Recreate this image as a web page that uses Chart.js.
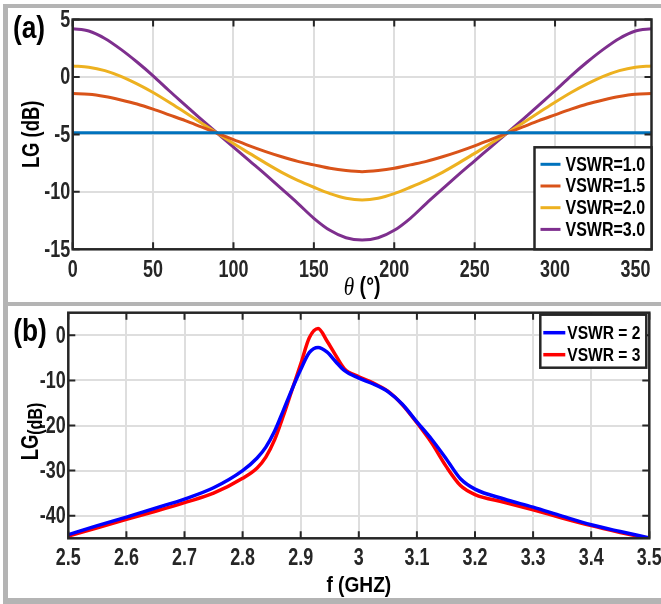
<!DOCTYPE html>
<html>
<head>
<meta charset="utf-8">
<title>LG versus phase and frequency</title>
<script src="https://cdn.jsdelivr.net/npm/chart.js@4.4.1/dist/chart.umd.min.js"></script>
<style>
  html, body { margin: 0; padding: 0; background: #fff; }
  body { width: 661px; height: 604px; position: relative; overflow: hidden; }
  .frame { position: absolute; background: #b4b4b4; }
  canvas { position: absolute; left: 8px; }
  #chartA { top: 8px; }
  #chartB { top: 306px; }
</style>
</head>
<body>
<div class="frame" style="left:3px;top:4px;width:658px;height:4px"></div>
<div class="frame" style="left:3px;top:302px;width:658px;height:4px"></div>
<div class="frame" style="left:3px;top:598px;width:658px;height:6px"></div>
<div class="frame" style="left:3px;top:4px;width:5px;height:600px"></div>
<canvas id="chartA" width="653" height="294"></canvas>
<canvas id="chartB" width="653" height="292"></canvas>
<script>
var FONT = "'Liberation Sans', Arial, sans-serif";
var INK = '#262626';

// (a) LG against phase angle theta
var thetaDeg = [0, 10, 20, 30, 40, 50, 60, 70, 80, 90, 100, 110, 120, 130, 140, 150, 160, 170, 180,
  190, 200, 210, 220, 230, 240, 250, 260, 270, 280, 290, 300, 310, 320, 330, 340, 350, 360];
var lgVswr10 = [-4.85, -4.85, -4.85, -4.85, -4.85, -4.85, -4.85, -4.85, -4.85, -4.85, -4.85, -4.85, -4.85,
  -4.85, -4.85, -4.85, -4.85, -4.85, -4.85, -4.85, -4.85, -4.85, -4.85, -4.85, -4.85, -4.85, -4.85,
  -4.85, -4.85, -4.85, -4.85, -4.85, -4.85, -4.85, -4.85, -4.85, -4.85];
var lgVswr15 = [-1.45, -1.5, -1.7, -2.0, -2.35, -2.8, -3.3, -3.8, -4.35, -4.9, -5.45, -6.0, -6.5, -6.95,
  -7.35, -7.65, -7.95, -8.15, -8.25, -8.15, -7.95, -7.65, -7.35, -6.95, -6.5, -6.0, -5.45, -4.9,
  -4.35, -3.8, -3.3, -2.8, -2.35, -2.0, -1.7, -1.5, -1.45];
var lgVswr20 = [0.95, 0.85, 0.55, 0.05, -0.6, -1.35, -2.2, -3.1, -4.0, -4.9, -5.8, -6.65, -7.5, -8.3,
  -9.0, -9.6, -10.15, -10.55, -10.7, -10.55, -10.15, -9.6, -9.0, -8.3, -7.5, -6.65, -5.8, -4.9,
  -4.0, -3.1, -2.2, -1.35, -0.6, 0.05, 0.55, 0.85, 0.95];
var lgVswr30 = [4.2, 4.0, 3.35, 2.4, 1.3, 0.1, -1.2, -2.45, -3.7, -4.9, -6.1, -7.3, -8.5, -9.75,
  -11.0, -12.3, -13.35, -14.0, -14.2, -14.0, -13.35, -12.3, -11.0, -9.75, -8.5, -7.3, -6.1, -4.9,
  -3.7, -2.45, -1.2, 0.1, 1.3, 2.4, 3.35, 4.0, 4.2];
var thetaTicks = [0, 50, 100, 150, 200, 250, 300, 350];
var lgTicksA = [-15, -10, -5, 0, 5];

// (b) LG against frequency
var freqGHz = [2.5, 2.55, 2.6, 2.65, 2.7, 2.75, 2.8, 2.825, 2.84, 2.855, 2.87, 2.885, 2.9, 2.915,
  2.93, 2.945, 2.96, 2.975, 3.0, 3.025, 3.05, 3.075, 3.1, 3.125, 3.15, 3.175, 3.2, 3.25, 3.3,
  3.35, 3.4, 3.45, 3.5];
var lgVswr2 = [-44.2, -42.2, -40.3, -38.3, -36.3, -33.8, -30.0, -27.2, -24.8, -21.3, -16.7, -12.0,
  -7.6, -3.8, -2.7, -3.7, -5.8, -7.8, -9.5, -10.8, -12.5, -15.3, -19.2, -23.0, -27.3, -31.8,
  -34.1, -36.3, -38.1, -40.1, -42.0, -43.5, -44.9];
var lgVswr3 = [-44.5, -42.7, -40.8, -39.0, -37.1, -35.0, -31.7, -29.4, -27.0, -23.2, -17.9, -12.1,
  -6.4, -0.5, 1.5, -1.2, -4.4, -7.4, -9.2, -10.6, -12.4, -15.4, -19.4, -23.8, -29.0, -33.3,
  -35.3, -37.0, -38.7, -40.5, -42.2, -43.7, -45.1];
var freqTicks = [2.5, 2.6, 2.7, 2.8, 2.9, 3.0, 3.1, 3.2, 3.3, 3.4, 3.5];
var freqTickLabels = ['2.5', '2.6', '2.7', '2.8', '2.9', '3', '3.1', '3.2', '3.3', '3.4', '3.5'];
var lgTicksB = [-40, -30, -20, -10, 0];

function pairs(xs, ys) {
  return xs.map(function(x, i) { return {x: x, y: ys[i]}; });
}

function line(label, xs, ys, color, width) {
  return {
    label: label,
    data: pairs(xs, ys),
    borderColor: color,
    backgroundColor: color,
    borderWidth: width,
    pointRadius: 0,
    cubicInterpolationMode: 'monotone',
    fill: false
  };
}

function fixedTicks(values) {
  return function(scale) {
    scale.ticks = values.map(function(v) { return {value: v}; });
  };
}

// the figure's lettering is tall and narrow, so squeeze it sideways
function fillNarrow(ctx, text, x, y, squeeze) {
  ctx.fillText(text, x, y, ctx.measureText(text).width * squeeze);
}

function drawParts(ctx, parts, cx, cy, squeeze) {
  var total = 0;
  parts.forEach(function(p) { ctx.font = p.font; total += ctx.measureText(p.text).width * squeeze; });
  var x = cx - total / 2;
  ctx.textAlign = 'left';
  parts.forEach(function(p) {
    ctx.font = p.font;
    fillNarrow(ctx, p.text, x, cy + (p.dy || 0), squeeze);
    x += ctx.measureText(p.text).width * squeeze;
  });
}

// frame, inward ticks, tick labels, panel tag, axis titles and the boxed legend
var panelDecor = {
  id: 'panelDecor',
  afterDraw: function(chart, args, opts) {
    var ctx = chart.ctx, a = chart.chartArea;
    var xs = chart.scales.x, ys = chart.scales.y;
    ctx.save();

    ctx.strokeStyle = INK;
    ctx.lineWidth = 2;
    ctx.beginPath();
    xs.ticks.forEach(function(t) {
      var px = xs.getPixelForValue(t.value);
      ctx.moveTo(px, a.bottom); ctx.lineTo(px, a.bottom - 7);
      ctx.moveTo(px, a.top); ctx.lineTo(px, a.top + 7);
    });
    ys.ticks.forEach(function(t) {
      var py = ys.getPixelForValue(t.value);
      ctx.moveTo(a.left, py); ctx.lineTo(a.left + 7, py);
      ctx.moveTo(a.right, py); ctx.lineTo(a.right - 7, py);
    });
    ctx.stroke();
    ctx.lineWidth = 2.5;
    ctx.strokeRect(a.left, a.top, a.right - a.left, a.bottom - a.top);

    ctx.fillStyle = INK;
    ctx.textBaseline = 'middle';
    ctx.font = 'bold 23px ' + FONT;
    ctx.textAlign = 'center';
    xs.ticks.forEach(function(t) {
      fillNarrow(ctx, t.label, xs.getPixelForValue(t.value), a.bottom + opts.xTickGap, 0.78);
    });
    ctx.textAlign = 'right';
    ys.ticks.forEach(function(t) {
      fillNarrow(ctx, t.label, a.left - 2.5, ys.getPixelForValue(t.value) + 1, 0.78);
    });

    ctx.fillStyle = '#000';
    drawParts(ctx, [{text: opts.tag, font: 'bold 31px ' + FONT}], opts.tagX, opts.tagY, 0.85);
    drawParts(ctx, opts.xTitle, (a.left + a.right) / 2, opts.xTitleY, opts.titleSqueeze);

    ctx.save();
    ctx.translate(opts.yTitleX, (a.top + a.bottom) / 2 + opts.yTitleShift);
    ctx.rotate(-Math.PI / 2);
    drawParts(ctx, opts.yTitle, 0, 0, 0.8);
    ctx.restore();

    var lg = opts.legend;
    var bx = a.right - lg.dx - lg.w;
    var by = lg.anchor === 'bottom' ? a.bottom - lg.dy - lg.h : a.top + lg.dy;
    ctx.fillStyle = '#fff';
    ctx.fillRect(bx, by, lg.w, lg.h);
    ctx.strokeStyle = INK;
    ctx.lineWidth = 2.5;
    ctx.strokeRect(bx, by, lg.w, lg.h);
    ctx.font = 'bold ' + lg.size + 'px ' + FONT;
    ctx.textAlign = 'left';
    chart.data.datasets.forEach(function(ds, i) {
      var ry = by + lg.first + i * lg.gap;
      ctx.strokeStyle = ds.borderColor;
      ctx.lineWidth = ds.borderWidth;
      ctx.beginPath();
      ctx.moveTo(bx + lg.s0, ry);
      ctx.lineTo(bx + lg.s1, ry);
      ctx.stroke();
      ctx.fillStyle = '#000';
      fillNarrow(ctx, ds.label, bx + lg.tx, ry + 1, 0.82);
    });
    ctx.restore();
  }
};

function axis(min, max, ticks, fitSize, horizontal, callback) {
  return {
    type: 'linear',
    min: min,
    max: max,
    afterBuildTicks: fixedTicks(ticks),
    afterFit: function(scale) {
      if (horizontal) { scale.height = fitSize; } else { scale.width = fitSize; }
      scale.paddingLeft = 0; scale.paddingRight = 0;
      scale.paddingTop = 0; scale.paddingBottom = 0;
    },
    grid: {color: '#dedede', lineWidth: 2, drawTicks: false},
    border: {display: false},
    ticks: {
      display: false,
      callback: callback || function(v) { return String(v); }
    }
  };
}

var baseOptions = {
  responsive: false,
  animation: false,
  devicePixelRatio: 1,
  events: []
};

new Chart(document.getElementById('chartA'), {
  type: 'line',
  data: {
    datasets: [
      line('VSWR=1.0', thetaDeg, lgVswr10, '#0072BD', 3),
      line('VSWR=1.5', thetaDeg, lgVswr15, '#D95319', 3),
      line('VSWR=2.0', thetaDeg, lgVswr20, '#EDB120', 3),
      line('VSWR=3.0', thetaDeg, lgVswr30, '#7E2F8E', 3)
    ]
  },
  options: Object.assign({}, baseOptions, {
    layout: {padding: {top: 11.5, right: 9.5, left: 0, bottom: 0}},
    scales: {
      x: axis(0, 360, thetaTicks, 52.7, true),
      y: axis(-15, 5, lgTicksA, 64.7, false)
    },
    plugins: {
      legend: {display: false},
      tooltip: {enabled: false},
      panelDecor: {
        tag: '(a)', tagX: 21, tagY: 21,
        xTickGap: 21,
        xTitle: [{text: '\u03b8', font: 'italic 25px "Liberation Serif", serif'},
                 {text: ' (\u00b0)', font: 'bold 23px ' + FONT}],
        xTitleY: 280, titleSqueeze: 0.85,
        yTitle: [{text: 'LG (dB)', font: 'bold 23px ' + FONT}],
        yTitleX: 25, yTitleShift: 0,
        legend: {anchor: 'bottom', dx: 0, dy: 0, w: 117, h: 102, first: 17, gap: 21.7,
                 s0: 6, s1: 26, tx: 31, size: 19.5}
      }
    }
  }),
  plugins: [panelDecor]
});

new Chart(document.getElementById('chartB'), {
  type: 'line',
  data: {
    datasets: [
      line('VSWR = 2', freqGHz, lgVswr2, '#0000FF', 3.5),
      line('VSWR = 3', freqGHz, lgVswr3, '#FF0000', 3.5)
    ]
  },
  options: Object.assign({}, baseOptions, {
    layout: {padding: {top: 6.7, right: 11.7, left: 0, bottom: 0}},
    scales: {
      x: axis(2.5, 3.5, freqTicks, 59.7, true, function(v, i) { return freqTickLabels[i]; }),
      y: axis(-45, 5, lgTicksB, 60.3, false)
    },
    plugins: {
      legend: {display: false},
      tooltip: {enabled: false},
      panelDecor: {
        tag: '(b)', tagX: 22, tagY: 26,
        xTickGap: 20,
        xTitle: [{text: 'f (GHZ)', font: 'bold 22px ' + FONT}],
        xTitleY: 280, titleSqueeze: 0.87,
        yTitle: [{text: 'LG', font: 'bold 23px ' + FONT},
                 {text: '(dB)', font: 'bold 20px ' + FONT, dy: 4}],
        yTitleX: 24, yTitleShift: 6,
        legend: {anchor: 'top', dx: 3, dy: 2, w: 106, h: 53, first: 18, gap: 22,
                 s0: 3, s1: 25, tx: 27, size: 19}
      }
    }
  }),
  plugins: [panelDecor]
});
</script>
</body>
</html>
